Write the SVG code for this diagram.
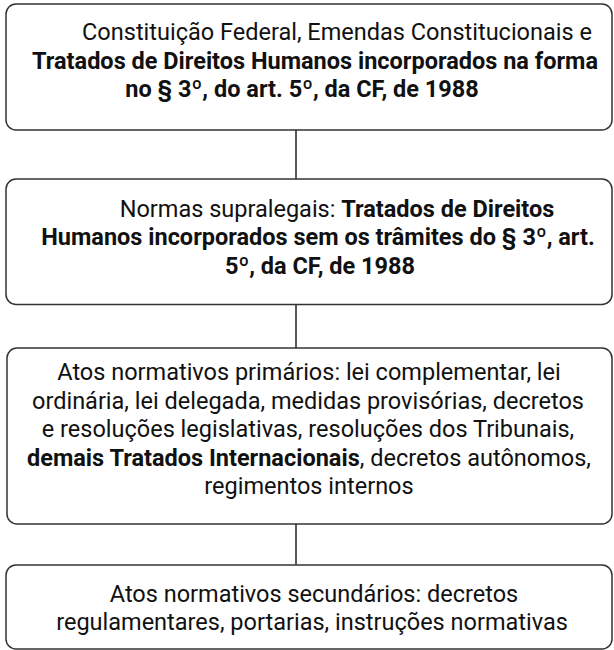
<svg xmlns="http://www.w3.org/2000/svg" width="614" height="650" viewBox="0 0 614 650">
<style>
.box{fill:#fff;stroke:#333;stroke-width:1.5}
.conn line{stroke:#222;stroke-width:1.5}
text{font-family:Roboto,"Liberation Sans",sans-serif;font-size:23.5px;fill:#111;text-anchor:middle}
.b{font-weight:bold}
</style>
<rect width="614" height="650" fill="#fff"/>
<g id="connectors" class="conn">
<line x1="296" y1="130" x2="296" y2="179"/>
<line x1="296" y1="304.5" x2="296" y2="348"/>
<line x1="296" y1="524" x2="296" y2="565"/>
</g>
<g id="node1">
<rect class="box" x="6" y="4" width="606" height="126" rx="10"/>
<text x="337" y="40">Constituição Federal, Emendas Constitucionais e</text>
<text class="b" x="315" y="68.5">Tratados de Direitos Humanos incorporados na forma</text>
<text class="b" x="302" y="97">no § 3º, do art. 5º, da CF, de 1988</text>
</g>
<g id="node2">
<rect class="box" x="6" y="179" width="606" height="125.5" rx="10"/>
<text x="337" y="216.5">Normas supralegais: <tspan class="b">Tratados de Direitos</tspan></text>
<text class="b" x="318" y="245">Humanos incorporados sem os trâmites do § 3º, art.</text>
<text class="b" x="320" y="273.5">5º, da CF, de 1988</text>
</g>
<g id="node3">
<rect class="box" x="7" y="348" width="605" height="176" rx="10"/>
<text x="309" y="380">Atos normativos primários: lei complementar, lei</text>
<text x="308" y="408.5">ordinária, lei delegada, medidas provisórias, decretos</text>
<text x="308" y="437">e resoluções legislativas, resoluções dos Tribunais,</text>
<text x="309" y="465.5"><tspan class="b">demais Tratados Internacionais</tspan>, decretos autônomos,</text>
<text x="309" y="494">regimentos internos</text>
</g>
<g id="node4">
<rect class="box" x="6" y="565" width="606" height="84" rx="10"/>
<text x="314" y="602">Atos normativos secundários: decretos</text>
<text x="312" y="630">regulamentares, portarias, instruções normativas</text>
</g>
</svg>
